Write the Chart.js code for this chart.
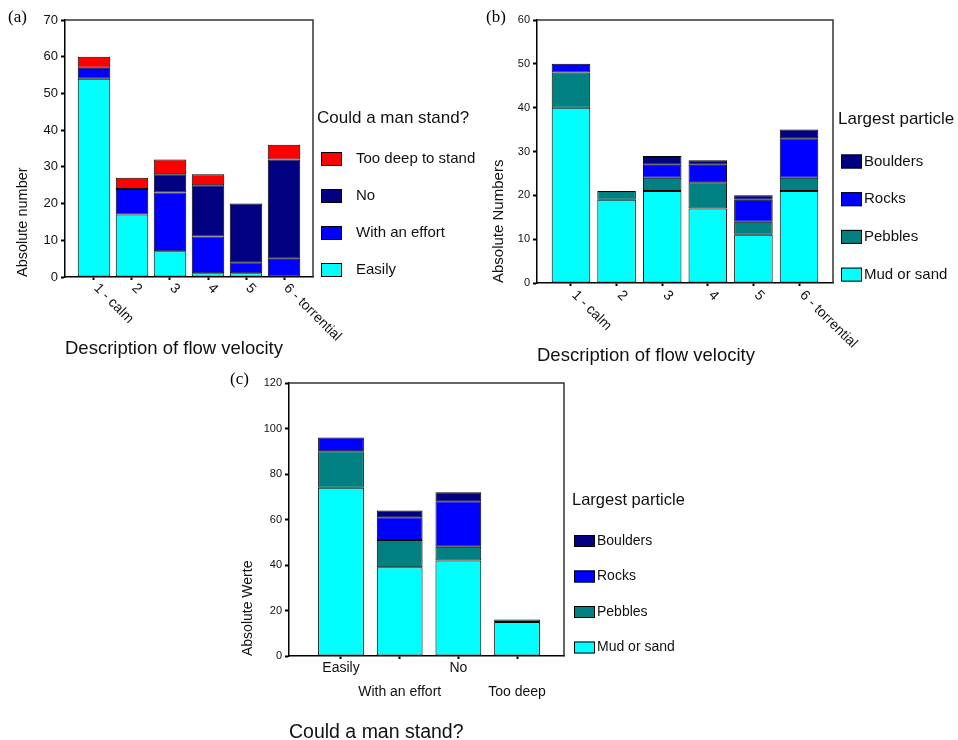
<!DOCTYPE html>
<html>
<head>
<meta charset="utf-8">
<script src="https://cdn.jsdelivr.net/npm/chart.js@4.4.1/dist/chart.umd.min.js"></script>
<style>
  html, body { margin: 0; padding: 0; background: #fff; overflow: hidden; }
  body { width: 958px; height: 740px; position: relative; }
  canvas { position: absolute; }
  #chartA { left: 0; top: 0; }
  #chartB { left: 480px; top: 0; }
  #chartC { left: 225px; top: 365px; }
</style>
</head>
<body>
<canvas id="chartA" width="480" height="365"></canvas>
<canvas id="chartB" width="478" height="370"></canvas>
<canvas id="chartC" width="500" height="380"></canvas>
<script>
// categories
const velocityLabels = ['1 - calm', '2', '3', '4', '5', '6 - torrential'];
const standLabels = ['Easily', 'With an effort', 'No', 'Too deep'];

// (a) could a man stand, per flow velocity
const standEasily = [54, 17, 7, 1, 1, 0];
const standEffort = [3, 7, 16, 10, 3, 5];
const standNo = [0, 0, 5, 14, 16, 27];
const standTooDeep = [3, 3, 4, 3, 0, 4];

// (b) largest particle, per flow velocity
const velMud = [40, 19, 21, 17, 11, 21];
const velPebbles = [8, 2, 3, 6, 3, 3];
const velRocks = [2, 0, 3, 4, 5, 9];
const velBoulders = [0, 0, 2, 1, 1, 2];

// (c) largest particle, per "could a man stand"
const mudByStand = [74, 39, 42, 15];
const pebblesByStand = [16, 12, 6, 1];
const rocksByStand = [6, 10, 20, 0];
const bouldersByStand = [0, 3, 4, 0];

// y axis ticks (max, step)
const yTicksA = [70, 10];
const yTicksB = [60, 10];
const yTicksC = [120, 20];

const CYAN = '#00ffff', BLUE = '#0000ff', NAVY = '#000080', RED = '#ff0000', TEAL = '#008080';
const SANS = '"Liberation Sans", Arial, sans-serif';
const INK = '#111';

Chart.defaults.font.family = SANS;
Chart.defaults.color = INK;

// legend drawn to the right of the plot, top item = last dataset
const sideLegend = {
  id: 'sideLegend',
  afterDraw(chart, args, o) {
    const ctx = chart.ctx;
    const right = chart.chartArea.right;
    ctx.save();
    ctx.textAlign = 'left';
    ctx.textBaseline = 'middle';
    ctx.fillStyle = INK;
    ctx.font = o.titleFont;
    ctx.fillText(o.title, right + o.titleDx, o.titleY);
    ctx.font = o.itemFont;
    chart.data.datasets.slice().reverse().forEach(function (ds, i) {
      const y = o.firstY + i * o.step;
      ctx.fillStyle = ds.backgroundColor;
      ctx.fillRect(right + o.boxDx, y - o.boxH / 2, o.boxW, o.boxH);
      ctx.strokeStyle = '#000';
      ctx.lineWidth = 1;
      ctx.strokeRect(right + o.boxDx + 0.5, y - o.boxH / 2 + 0.5, o.boxW - 1, o.boxH - 1);
      ctx.fillStyle = INK;
      ctx.fillText(ds.label, right + o.textDx, y);
    });
    ctx.restore();
  }
};

// top and right edges of the plot box, plus the panel letter
const frameBox = {
  id: 'frameBox',
  afterDraw(chart, args, o) {
    const ctx = chart.ctx;
    const a = chart.chartArea;
    ctx.save();
    ctx.strokeStyle = '#333';
    ctx.lineWidth = 1.5;
    ctx.beginPath();
    ctx.moveTo(a.left, a.top);
    ctx.lineTo(a.right, a.top);
    ctx.lineTo(a.right, a.bottom);
    ctx.stroke();
    ctx.fillStyle = '#000';
    ctx.font = '17px "Liberation Serif", "Times New Roman", serif';
    ctx.textAlign = 'left';
    ctx.textBaseline = 'middle';
    ctx.fillText(o.panel, o.panelX, o.panelY);
    ctx.restore();
  }
};

// x labels slanted 45 degrees downwards to the right
const slantLabels = {
  id: 'slantLabels',
  afterDraw(chart, args, o) {
    if (!o.labels) return;
    const xs = chart.scales.x;
    const ctx = chart.ctx;
    ctx.save();
    ctx.font = '14px ' + SANS;
    ctx.fillStyle = INK;
    ctx.textAlign = 'left';
    ctx.textBaseline = 'middle';
    xs.ticks.forEach(function (t, i) {
      ctx.save();
      ctx.translate(xs.getPixelForValue(t.value) + o.dx, chart.chartArea.bottom + o.dy);
      ctx.rotate(Math.PI / 4);
      ctx.fillText(o.labels[i], 0, 0);
      ctx.restore();
    });
    ctx.restore();
  }
};

function barSet(label, data, color) {
  return { label: label, data: data, backgroundColor: color, borderColor: '#000', borderWidth: 1, borderSkipped: false };
}

function makeChart(id, c) {
  const positions = c.categories.map((_, i) => i + 1);
  return new Chart(document.getElementById(id), {
    type: 'bar',
    data: { labels: positions, datasets: c.datasets },
    plugins: [frameBox, sideLegend, slantLabels],
    options: {
      responsive: false,
      animation: false,
      devicePixelRatio: 1,
      layout: { padding: c.padding },
      datasets: { bar: { barPercentage: c.barPct, categoryPercentage: 1 } },
      plugins: {
        legend: { display: false },
        tooltip: { enabled: false },
        frameBox: c.frame,
        sideLegend: c.legend,
        slantLabels: c.slant || {}
      },
      scales: {
        x: {
          type: 'linear',
          stacked: true,
          min: c.xRange[0],
          max: c.xRange[1],
          offset: false,
          afterBuildTicks: s => { s.ticks = positions.map(v => ({ value: v })); },
          afterFit: s => { s.height = c.xHeight; },
          grid: { drawOnChartArea: false, offset: false, tickLength: 3, tickWidth: 2, tickColor: '#000' },
          border: { color: '#000', width: 1.5 },
          ticks: c.xTicks,
          title: { display: true, text: c.xTitle, align: 'start', color: INK, font: { size: c.xTitleSize }, padding: { top: 0, bottom: c.xTitlePad } }
        },
        y: {
          stacked: true,
          min: 0,
          max: c.yTicks[0],
          afterFit: s => { s.width = c.yWidth; },
          ticks: { stepSize: c.yTicks[1], font: { size: c.yFont }, color: INK, padding: 3 },
          grid: { drawOnChartArea: false, tickLength: 4, tickWidth: 2, tickColor: '#000' },
          border: { color: '#000', width: 1.5 },
          title: { display: true, text: c.yTitle, align: 'start', color: INK, font: { size: c.yTitleSize }, padding: { top: c.yTitlePad, bottom: 0 } }
        }
      }
    }
  });
}

makeChart('chartA', {
  categories: velocityLabels,
  datasets: [
    barSet('Easily', standEasily, CYAN),
    barSet('With an effort', standEffort, BLUE),
    barSet('No', standNo, NAVY),
    barSet('Too deep to stand', standTooDeep, RED)
  ],
  padding: { left: 0, top: 20, right: 167, bottom: 0 },
  barPct: 0.855,
  xRange: [0.237, 6.763],
  xHeight: 88,
  xTicks: { display: false },
  xTitle: 'Description of flow velocity', xTitleSize: 18.5, xTitlePad: 5,
  yTicks: yTicksA, yWidth: 65, yFont: 13,
  yTitle: 'Absolute number', yTitleSize: 14.5, yTitlePad: 14,
  frame: { panel: '(a)', panelX: 8, panelY: 18 },
  slant: { labels: velocityLabels, dx: 2, dy: 9 },
  legend: { title: 'Could a man stand?', titleFont: '17px ' + SANS, titleDx: 4, titleY: 118,
            itemFont: '15px ' + SANS, boxDx: 8, boxW: 21, boxH: 14, firstY: 159, step: 37, textDx: 43 }
});

makeChart('chartB', {
  categories: velocityLabels,
  datasets: [
    barSet('Mud or sand', velMud, CYAN),
    barSet('Pebbles', velPebbles, TEAL),
    barSet('Rocks', velRocks, BLUE),
    barSet('Boulders', velBoulders, NAVY)
  ],
  padding: { left: 0, top: 20, right: 125, bottom: 0 },
  barPct: 0.845,
  xRange: [0.255, 6.745],
  xHeight: 87,
  xTicks: { display: false },
  xTitle: 'Description of flow velocity', xTitleSize: 18.5, xTitlePad: 3,
  yTicks: yTicksB, yWidth: 57, yFont: 11,
  yTitle: 'Absolute Numbers', yTitleSize: 15, yTitlePad: 10,
  frame: { panel: '(b)', panelX: 6, panelY: 18 },
  slant: { labels: velocityLabels, dx: 3, dy: 10 },
  legend: { title: 'Largest particle', titleFont: '17px ' + SANS, titleDx: 5, titleY: 119,
            itemFont: '15px ' + SANS, boxDx: 8, boxW: 21, boxH: 14, firstY: 161.5, step: 37.7, textDx: 31 }
});

makeChart('chartC', {
  categories: standLabels,
  datasets: [
    barSet('Mud or sand', mudByStand, CYAN),
    barSet('Pebbles', pebblesByStand, TEAL),
    barSet('Rocks', rocksByStand, BLUE),
    barSet('Boulders', bouldersByStand, NAVY)
  ],
  padding: { left: 0, top: 18, right: 161, bottom: 0 },
  barPct: 0.78,
  xRange: [0.114, 4.8],
  xHeight: 89,
  xTicks: {
    autoSkip: false, minRotation: 0, maxRotation: 0, padding: -3,
    font: { size: 14, lineHeight: '24px' }, color: INK,
    callback: (v, i) => (i % 2 === 0 ? [standLabels[i]] : ['', standLabels[i]])
  },
  xTitle: 'Could a man stand?', xTitleSize: 19.5, xTitlePad: 1,
  yTicks: yTicksC, yWidth: 64, yFont: 11,
  yTitle: 'Absolute Werte', yTitleSize: 14, yTitlePad: 15,
  frame: { panel: '(c)', panelX: 5, panelY: 15 },
  legend: { title: 'Largest particle', titleFont: '16.5px ' + SANS, titleDx: 8, titleY: 135,
            itemFont: '14px ' + SANS, boxDx: 10, boxW: 21, boxH: 12, firstY: 176, step: 35.5, textDx: 33 }
});
</script>
</body>
</html>
